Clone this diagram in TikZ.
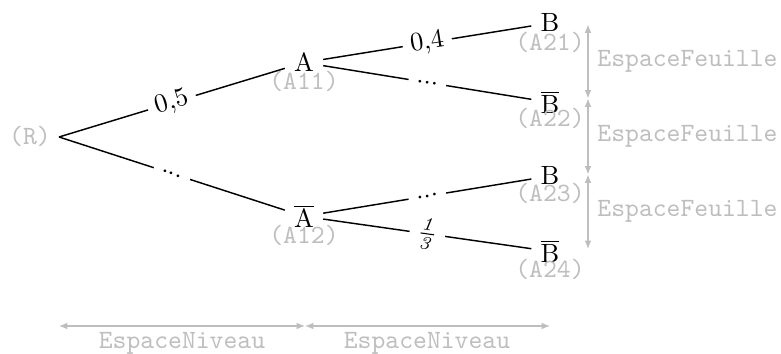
\documentclass[tikz,border=0pt]{standalone}
\usetikzlibrary{arrows.meta}
\definecolor{dbg}{RGB}{190,190,190}
\begin{document}
\begin{tikzpicture}[x=0.379pt,y=-0.379pt,
  tnode/.style={anchor=base,inner sep=3.33pt},
  br/.style={line width=0.55pt,black},
  plab/.style={fill=white,sloped,inner sep=3pt,midway},
  dbglab/.style={text=dbg,font=\ttfamily,inner sep=0pt},
  dimarrow/.style={draw=dbg,line width=0.5pt,{Latex[length=3.2pt,width=2.6pt]}-{Latex[length=3.2pt,width=2.6pt]}},
  dimlab/.style={text=dbg,font=\ttfamily}]
\useasboundingbox (0,0) rectangle (781,354);
% root
\coordinate (R) at (59,137);
\node[dbglab] (Rl) at (30,136) {(R)};
% level 1
\node[tnode] (A) at (304,72) {A};
\node[tnode] (Ab) at (304,228) {$\overline{\mathrm{A}}$};
\node[dbglab] (A11) at (304,81) {(A11)};
\node[dbglab] (A12) at (304,235) {(A12)};
% level 2
\node[tnode] (B1) at (550,32) {B};
\node[tnode] (B2) at (550,114) {$\overline{\mathrm{B}}$};
\node[tnode] (B3) at (550,185) {B};
\node[tnode] (B4) at (550,263) {$\overline{\mathrm{B}}$};
\node[dbglab] (A21) at (550,42) {(A21)};
\node[dbglab] (A22) at (550,118) {(A22)};
\node[dbglab] (A23) at (550,193) {(A23)};
\node[dbglab] (A24) at (550,269) {(A24)};
% branches
\draw[br] (R) -- (A) node[plab] {0,5};
\draw[br] (R) -- (Ab) node[plab] {...};
\draw[br] (A) -- (B1) node[plab] {0,4};
\draw[br] (A) -- (B2) node[plab] {...};
\draw[br] (Ab) -- (B3) node[plab] {...};
\draw[br] (Ab) -- (B4) node[plab] {$\frac{\mathit{1}}{\mathit{3}}$};
% leaf spacing
\coordinate (F0) at (588,24.5);
\coordinate (F1) at (588,98.5);
\coordinate (F2) at (588,174.5);
\coordinate (F3) at (588,249);
\draw[dimarrow] (F0) -- (F1) node[dimlab,midway,anchor=west] {EspaceFeuille};
\draw[dimarrow] (F1) -- (F2) node[dimlab,midway,anchor=west] {EspaceFeuille};
\draw[dimarrow] (F2) -- (F3) node[dimlab,midway,anchor=west] {EspaceFeuille};
% level spacing
\coordinate (N0) at (59,326);
\coordinate (N1) at (305,326);
\coordinate (N2) at (550,326);
\draw[dimarrow] (N0) -- (N1);
\draw[dimarrow] (N1) -- (N2);
\node[dimlab,anchor=base,inner sep=0pt] (L1) at (182,349) {EspaceNiveau};
\node[dimlab,anchor=base,inner sep=0pt] (L2) at (427,349) {EspaceNiveau};
\end{tikzpicture}
\end{document}
